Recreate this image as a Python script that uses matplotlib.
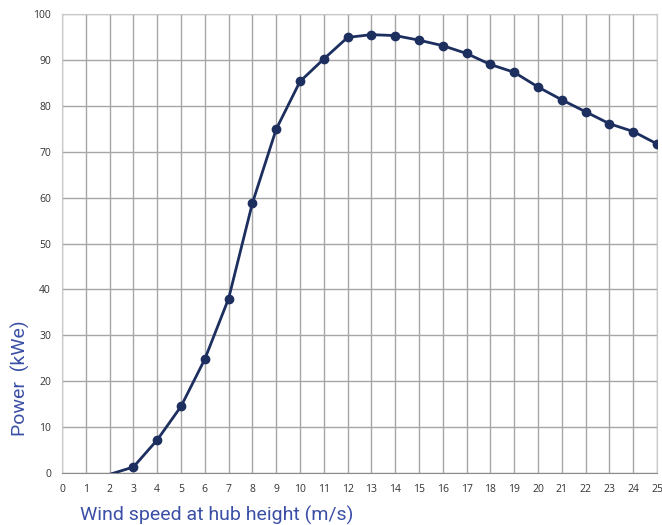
import matplotlib
matplotlib.use("Agg")
import matplotlib.pyplot as plt

# wind speed (m/s) and power output (kWe)
wind_speed = list(range(1, 26))
power = [-0.3, -0.3, 1.3, 7.2, 14.5, 24.8, 38.0, 58.8, 74.9, 85.3, 90.2, 94.9,
         95.5, 95.3, 94.3, 93.1, 91.4, 89.0, 87.3, 84.1, 81.3, 78.7, 76.1, 74.4, 71.7]

x_ticks = list(range(0, 26))
y_ticks = list(range(0, 101, 10))

line_color = "#1d2f5f"
label_color = "#3b4fa6"
grid_color = "#a6a6a6"

fig = plt.figure(figsize=(6.62, 5.25), dpi=100)
ax = fig.add_axes([62 / 662, 1 - 473 / 525, 595 / 662, 459 / 525])

ax.plot(wind_speed, power, color=line_color, lw=2, marker="o", ms=6,
        markevery=list(range(2, len(wind_speed))), zorder=3)

ax.set_xlim(0, 25)
ax.set_ylim(0, 100)
ax.set_xticks(x_ticks)
ax.set_yticks(y_ticks)
ax.grid(True, color=grid_color, lw=1)
ax.set_axisbelow(True)
for s in ax.spines.values():
    s.set_color("#c8c8c8")
ax.spines["bottom"].set_color("#8c8c8c")
ax.tick_params(length=0, labelsize=7.5, labelcolor="#333333", pad=8)
for lab in ax.get_xticklabels() + ax.get_yticklabels():
    lab.set_family("Open Sans")

fig.text(20 / 662, 1 - 378 / 525, "Power  (kWe)", rotation=90, ha="center", va="center",
         color=label_color, fontsize=14, family="Roboto")
fig.text(80 / 662, 1 - 515 / 525, "Wind speed at hub height (m/s)", ha="left", va="center",
         color=label_color, fontsize=14, family="Roboto")

fig.savefig("out.png", dpi=100)
